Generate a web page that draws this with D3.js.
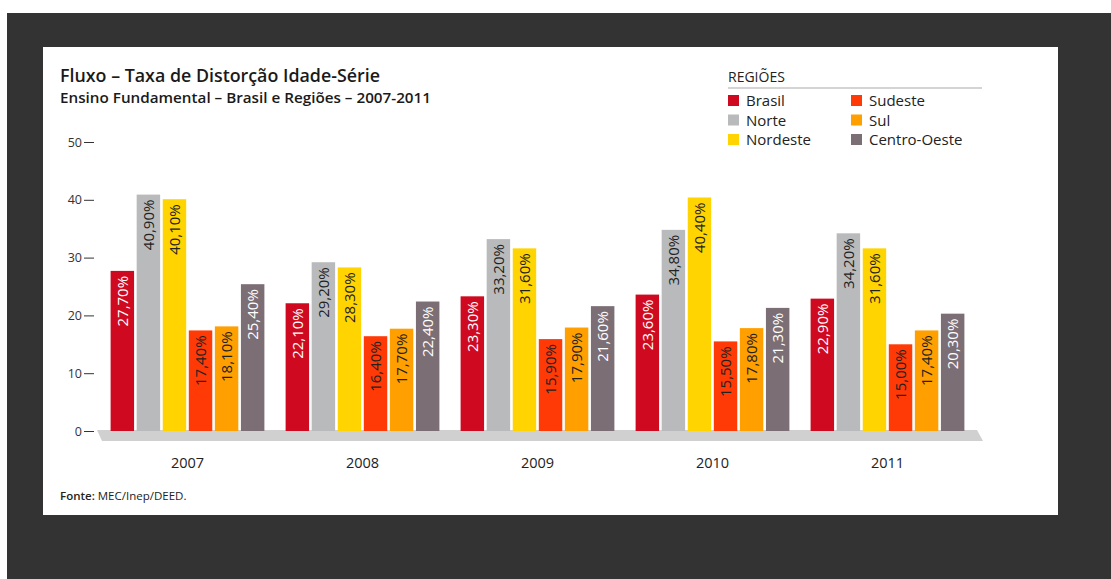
<!DOCTYPE html>
<html>
<head>
<meta charset="utf-8">
<script src="https://cdn.jsdelivr.net/npm/d3@7"></script>
<style>
  html, body { margin: 0; padding: 0; background: #fff; }
  svg { display: block; font-family: "Open Sans", "Noto Sans", sans-serif; }
</style>
</head>
<body>
<svg id="chart" width="1111" height="579"></svg>
<script>
const years = ['2007', '2008', '2009', '2010', '2011'];
const regions = ['Brasil', 'Norte', 'Nordeste', 'Sudeste', 'Sul', 'Centro-Oeste'];
const colors = ['#cf0a20', '#b9babc', '#ffd400', '#ff3a06', '#ff9f00', '#7c6e75'];
const labelColors = ['#fff', '#222', '#222', '#222', '#222', '#fff'];
const brasil = [27.7, 22.1, 23.3, 23.6, 22.9];
const norte = [40.9, 29.2, 33.2, 34.8, 34.2];
const nordeste = [40.1, 28.3, 31.6, 40.4, 31.6];
const sudeste = [17.4, 16.4, 15.9, 15.5, 15.0];
const sul = [18.1, 17.7, 17.9, 17.8, 17.4];
const centroOeste = [25.4, 22.4, 21.6, 21.3, 20.3];
const yTicks = [0, 10, 20, 30, 40, 50];

const series = [brasil, norte, nordeste, sudeste, sul, centroOeste];
const fmt = (v) => v.toFixed(2).replace('.', ',') + '%';

const svg = d3.select('#chart');
svg.append('rect').attr('x', 7).attr('y', 13).attr('width', 1104).attr('height', 566).attr('fill', '#333');
svg.append('rect').attr('x', 43).attr('y', 47).attr('width', 1015).attr('height', 468).attr('fill', '#fff');

// titles
svg.append('text').attr('x', 60).attr('y', 82).attr('font-size', 18).attr('font-weight', 600).attr('fill', '#1a1a1a')
  .attr('textLength', 320).attr('lengthAdjust', 'spacingAndGlyphs')
  .text('Fluxo – Taxa de Distorção Idade-Série');
svg.append('text').attr('x', 60).attr('y', 103).attr('font-size', 14.5).attr('font-weight', 600).attr('fill', '#1a1a1a')
  .attr('textLength', 371).attr('lengthAdjust', 'spacingAndGlyphs')
  .text('Ensino Fundamental – Brasil e Regiões – 2007-2011');

// legend
const lg = svg.append('g');
lg.append('text').attr('x', 728).attr('y', 82).attr('font-size', 14).attr('fill', '#222').text('REGIÕES');
lg.append('line').attr('x1', 728).attr('x2', 982).attr('y1', 88).attr('y2', 88).attr('stroke', '#aaa').attr('stroke-width', 1.2);
regions.forEach((r, i) => {
  const col = i < 3 ? 0 : 1;
  const row = i % 3;
  const x = col === 0 ? 728 : 851;
  const y = 100 + row * 19.5;
  lg.append('rect').attr('x', x).attr('y', y - 5).attr('width', 11).attr('height', 11).attr('fill', colors[i]);
  lg.append('text').attr('x', x + 18).attr('y', y + 6).attr('font-size', 15).attr('fill', '#222').text(r);
});

// scales
const y = d3.scaleLinear().domain([0, 50]).range([431, 142]);
const x0 = d3.scaleBand().domain(years).range([100, 975]).paddingInner(0).paddingOuter(0);
const x1 = d3.scaleBand().domain(regions).range([8, x0.bandwidth() - 8]).padding(0.1);

// floor platform
const fl = [x0.range()[0] - 3, x0.range()[1] + 2];
svg.append('path')
  .attr('d', `M${fl[0]},${y(0) - 1} L${fl[1]},${y(0) - 1} L${fl[1] + 6},${y(0) + 10} L${fl[0] + 5},${y(0) + 10} Z`)
  .attr('fill', '#d0d0d0');

// y axis
const ya = svg.append('g').attr('transform', 'translate(94,0)')
  .call(d3.axisLeft(y).tickValues(yTicks).tickSize(10).tickPadding(2));
ya.select('.domain').remove();
ya.selectAll('line').attr('stroke', '#333');
ya.selectAll('text').attr('font-size', 12.5).attr('fill', '#333').attr('font-family', '"Open Sans", sans-serif');

// bars
const gs = svg.append('g').selectAll('g').data(years).join('g')
  .attr('transform', (d) => `translate(${x0(d)},0)`);
gs.each(function (yr, yi) {
  const g = d3.select(this);
  regions.forEach((r, ri) => {
    const v = series[ri][yi];
    g.append('rect').attr('x', x1(r)).attr('y', y(v)).attr('width', x1.bandwidth()).attr('height', y(0) - y(v)).attr('fill', colors[ri]);
    const cx = x1(r) + x1.bandwidth() / 2;
    g.append('text')
      .attr('transform', `translate(${cx + 5.5},${y(v) + 5}) rotate(-90)`)
      .attr('text-anchor', 'end').attr('font-size', 15).attr('fill', labelColors[ri])
      .text(fmt(v));
  });
});

// x labels
svg.append('g').selectAll('text').data(years).join('text')
  .attr('x', (d) => x0(d) + x0.bandwidth() / 2).attr('y', 468)
  .attr('text-anchor', 'middle').attr('font-size', 14.5).attr('fill', '#222').text((d) => d);

// source
const src = svg.append('text').attr('x', 60).attr('y', 500).attr('font-size', 11.5).attr('fill', '#222');
src.append('tspan').attr('font-weight', 600).text('Fonte: ');
src.append('tspan').text('MEC/Inep/DEED.');
</script>
</body>
</html>
